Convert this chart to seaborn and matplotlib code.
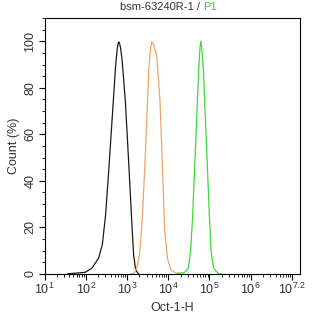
import numpy as np
import pandas as pd
import seaborn as sns
import matplotlib
matplotlib.use("Agg")
from matplotlib import pyplot as plt
from matplotlib.ticker import FixedLocator, FixedFormatter, MultipleLocator

# curves: position in decades (log10 of Oct-1-H) and count %
black_log = [1.55, 1.74, 1.99, 2.15, 2.31, 2.40, 2.48, 2.56, 2.64, 2.72, 2.76, 2.79, 2.81, 2.84, 2.88, 2.96, 3.04, 3.11, 3.16, 3.21, 3.28]
black_pct = [0.0, 0.3, 0.7, 2.5, 6.8, 12.5, 25.4, 45.5, 67.0, 88.7, 96.5, 99.6, 99.6, 97.5, 92.0, 74.0, 48.0, 24.0, 8.0, 1.7, 0.0]

orange_log = [3.10, 3.17, 3.25, 3.31, 3.37, 3.43, 3.48, 3.53, 3.57, 3.60, 3.62, 3.66, 3.72, 3.80, 3.86, 3.91, 3.98, 4.06, 4.22, 4.32]
orange_pct = [0.0, 0.3, 3.2, 9.6, 24.0, 45.5, 67.0, 88.7, 97.0, 99.8, 99.5, 97.5, 94.0, 74.0, 45.5, 19.7, 6.8, 1.7, 0.1, 0.0]

green_log = [4.22, 4.39, 4.49, 4.54, 4.59, 4.64, 4.69, 4.74, 4.77, 4.79, 4.81, 4.85, 4.90, 4.95, 5.00, 5.04, 5.10, 5.20, 5.28]
green_pct = [0.3, 0.5, 2.5, 9.6, 24.0, 45.5, 67.0, 88.7, 97.5, 100.0, 97.5, 88.7, 67.0, 45.5, 24.0, 9.6, 2.5, 0.3, 0.0]

x_tick_labels = [r"$10^{1}$", r"$10^{2}$", r"$10^{3}$", r"$10^{4}$", r"$10^{5}$", r"$10^{6}$", r"$10^{7.2}$"]
y_ticks = [0, 20, 40, 60, 80, 100]

sns.set_style("ticks")
plt.rcParams["font.family"] = ["Liberation Sans", "DejaVu Sans"]
plt.rcParams["mathtext.fontset"] = "custom"
plt.rcParams["mathtext.rm"] = "Liberation Sans"
plt.rcParams["mathtext.it"] = "Liberation Sans"

fig = plt.figure(figsize=(3.14, 3.17), dpi=100)
ax = fig.add_axes([0.142, 0.136, 0.814, 0.807])

curves = [(black_log, black_pct, "#1a1a1a"),
          (orange_log, orange_pct, "#f0a468"),
          (green_log, green_pct, "#3ed83e")]
for xs, ys, col in curves:
    df = pd.DataFrame({"x": 10 ** np.array(xs), "y": ys})
    sns.lineplot(data=df, x="x", y="y", color=col, lw=0.9, ax=ax)

ax.set_xscale("log")
ax.set_xlim(10 ** 1, 10 ** 7.2)
ax.set_ylim(0, 110)

ax.xaxis.set_major_locator(FixedLocator([10.0 ** k for k in range(1, 8)]))
ax.xaxis.set_major_formatter(FixedFormatter(x_tick_labels))
ax.xaxis.set_minor_locator(FixedLocator([m * 10.0 ** k for k in range(1, 7) for m in range(2, 10)]))
ax.xaxis.set_minor_formatter(FixedFormatter([]))

ax.set_yticks(y_ticks)
ax.yaxis.set_minor_locator(MultipleLocator(5))
for lab in ax.get_yticklabels():
    lab.set_rotation(90)
    lab.set_va("center")

ax.tick_params(which="major", length=4, width=0.8, labelsize=9, color="black", labelcolor="#333333", pad=2)
ax.tick_params(which="minor", length=2, width=0.6, color="black")
for s in ax.spines.values():
    s.set_linewidth(0.8)
    s.set_color("black")

ax.set_xlabel("Oct-1-H", fontsize=9, labelpad=3, color="#333333")
ax.set_ylabel("Count (%)", fontsize=9, labelpad=3, color="#333333")

t1 = fig.text(0.647, 0.962, "bsm-63240R-1 / ", ha="right", va="bottom", fontsize=8, color="#333333")
ax.annotate("P1", xy=(1, 0), xycoords=t1, va="bottom", ha="left", fontsize=8, color="#33cc33")

fig.savefig("out.png", dpi=100)
